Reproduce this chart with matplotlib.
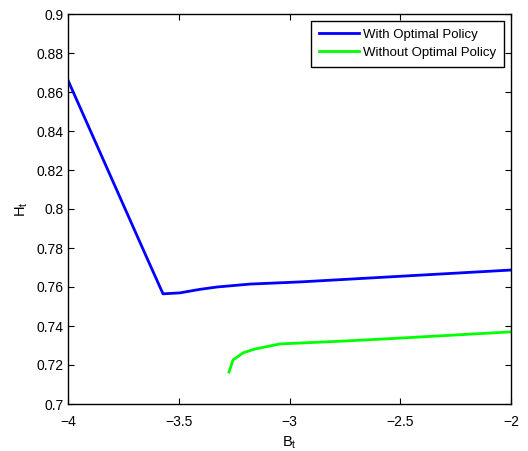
import matplotlib
matplotlib.use("Agg")
import matplotlib.pyplot as plt
from matplotlib.ticker import FixedLocator, FixedFormatter

plt.rcParams['font.family'] = ['Liberation Sans', 'DejaVu Sans']

# Data
b_with = [-4.0, -3.65, -3.571, -3.494, -3.404, -3.327, -3.178, -2.953, -2.5, -2.0]
h_with = [0.866, 0.7765, 0.7565, 0.7570, 0.7588, 0.7600, 0.7615, 0.7626, 0.7655, 0.7687]
b_without = [-3.273, -3.255, -3.21, -3.156, -3.043, -2.75, -2.5, -2.0]
h_without = [0.7164, 0.7226, 0.7262, 0.7282, 0.7308, 0.7323, 0.7338, 0.7370]

xticks = [-4, -3.5, -3, -2.5, -2]
xticklabels = ['\u22124', '\u22123.5', '\u22123', '\u22122.5', '\u22122']
yticks = [0.7, 0.72, 0.74, 0.76, 0.78, 0.8, 0.82, 0.84, 0.86, 0.88, 0.9]
yticklabels = ['0.7', '0.72', '0.74', '0.76', '0.78', '0.8', '0.82', '0.84', '0.86', '0.88', '0.9']

fig = plt.figure(figsize=(5.28, 4.51), dpi=100)
ax = fig.add_axes([68/528, 1-404/451, (511-68)/528, (404-14)/451])

ax.plot(b_with, h_with, color='#0000ff', lw=2.0, label='With Optimal Policy')
ax.plot(b_without, h_without, color='#00ff00', lw=2.0, label='Without Optimal Policy')

ax.set_xlim(-4, -2)
ax.set_ylim(0.7, 0.9)
ax.xaxis.set_major_locator(FixedLocator(xticks))
ax.xaxis.set_major_formatter(FixedFormatter(xticklabels))
ax.yaxis.set_major_locator(FixedLocator(yticks))
ax.yaxis.set_major_formatter(FixedFormatter(yticklabels))
ax.tick_params(direction='in', top=True, right=True, length=4, width=0.8, labelsize=10)
ax.tick_params(axis='x', pad=8)
ax.tick_params(axis='y', pad=3)
for s in ax.spines.values():
    s.set_linewidth(1.0)

ax.set_xlabel('B$_\\mathregular{t}$', fontsize=10.5, labelpad=4)
ax.set_ylabel('H$_\\mathregular{t}$', fontsize=10.5, labelpad=5)

leg = ax.legend(loc='upper right', fontsize=9.5, frameon=True, fancybox=False,
                edgecolor='black', framealpha=1, borderaxespad=0.5,
                handlelength=3.0, handletextpad=0.35, borderpad=0.6, labelspacing=0.45)
leg.get_frame().set_linewidth(1.0)

fig.savefig('out.png', dpi=100)
